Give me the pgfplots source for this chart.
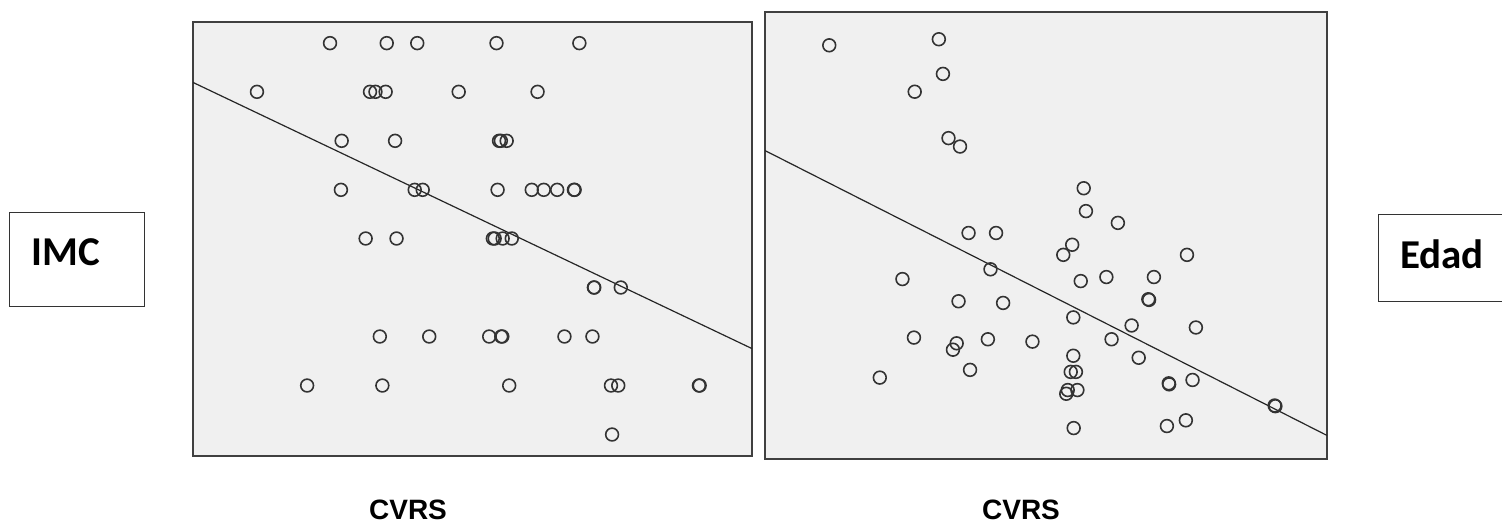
\documentclass[border=0pt]{standalone}
\usepackage{pgfplots}
\pgfplotsset{compat=1.18}
\usepackage{fontspec}
\setmainfont{Liberation Sans}
\newfontfamily\calibri{Carlito}
\definecolor{bg}{HTML}{F0F0F0}
\pgfplotsset{
  panel/.style={
    scale only axis,
    y dir=reverse,
    xtick=\empty, ytick=\empty,
    axis background/.style={fill=bg},
    axis line style={black!75, line width=0.8pt},
    clip=true,
  },
  pts/.style={only marks, mark=o, mark size=3.2pt, mark options={black!80, line width=0.8pt}},
  fit/.style={black!85, line width=0.6pt, no marks},
}
\begin{document}
\begin{tikzpicture}[x=0.5pt,y=-0.5pt]
\useasboundingbox (0,0) rectangle (1502,523);
\coordinate (P1) at (193,456);
\coordinate (P2) at (765,459);
% Panel 1
\begin{axis}[panel, at={(P1)}, anchor=south west, width=279.5pt, height=217pt,
  xmin=10, xmax=1548, ymin=25, ymax=1318]
\addplot[pts] coordinates {
(387,88) (543,88) (627,88) (845,88) (1073,88)
(186,233) (497,233) (512,233) (540,233) (741,233) (958,233)
(419,379) (566,379) (852,379) (857,379) (873,379)
(417,525) (620,525) (642,525) (848,525) (942,525) (975,525) (1012,525) (1058,525) (1060,525)
(485,670) (570,670) (835,670) (840,670) (862,670) (887,670)
(1113,816) (1114,816) (1187,816)
(524,962) (660,962) (825,962) (858,962) (861,962) (1032,962) (1109,962)
(324,1108) (531,1108) (880,1108) (1160,1108) (1180,1108) (1402,1108) (1404,1108)
(1163,1254)
};
\addplot[fit] coordinates {(10,205) (1548,998)};
\end{axis}
% Panel 2
\begin{axis}[panel, at={(P2)}, anchor=south west, width=281pt, height=223.5pt,
  xmin=15, xmax=1528, ymin=28, ymax=1357]
\addplot[pts] coordinates {
(188,127) (483,109) (494,212) (418,265) (509,403) (540,428) (873,552) (879,620)
(965,655) (563,685) (637,685) (842,720) (818,750) (1151,750) (622,793) (385,822)
(865,828) (934,816) (1062,816) (1047,882) (1049,884) (536,888) (656,893) (845,936)
(1002,960) (1175,966) (416,996) (531,1013) (521,1032) (615,1001) (735,1008) (948,1001)
(845,1050) (1021,1056) (567,1092) (324,1115) (838,1098) (852,1098) (1102,1132) (1103,1135)
(1166,1122) (856,1152) (830,1152) (826,1163) (1387,1198) (1389,1200) (846,1265) (1097,1259)
(1148,1242)
};
\addplot[fit] coordinates {(15,440) (1528,1287)};
\end{axis}
% Labels
\node[anchor=base, inner sep=0pt, font=\fontsize{14}{16}\selectfont\bfseries] at (408,519) {CVRS};
\node[anchor=base, inner sep=0pt, font=\fontsize{14}{16}\selectfont\bfseries] at (1021,519) {CVRS};
\draw[black!80, line width=0.5pt] (9,213) rectangle (144,307);
\node[font=\calibri\fontsize{20.5}{24}\selectfont\bfseries] at (66,252) {IMC};
\draw[black!80, line width=0.5pt] (1502,215) -- (1378,215) -- (1378,302) -- (1502,302);
\node[font=\calibri\fontsize{20.5}{24}\selectfont\bfseries] at (1442,254) {Edad};
\end{tikzpicture}
\end{document}
